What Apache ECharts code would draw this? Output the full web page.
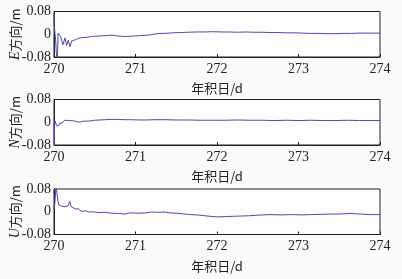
<!DOCTYPE html>
<html><head><meta charset="utf-8">
<script src="https://cdn.jsdelivr.net/npm/echarts@6/dist/echarts.min.js"></script>
<style>html,body{margin:0;padding:0;background:#fafafa}#c{width:402px;height:279px}</style>
</head><body><div id="c"></div>
<script>
const xTicks = [270, 271, 272, 273, 274];
const yTicks = [-0.08, 0, 0.08];
const xName = '年积日/d';
const yNames = ['{i|E}方向/m', '{i|N}方向/m', '{i|U}方向/m'];

const eTimes = [270.0,270.004,270.02,270.04,270.05,270.06,270.067,270.08,270.094,270.11,270.135,270.155,270.175,270.196,270.217,270.237,270.266,270.3,270.34,270.38,270.42,270.46,270.5,270.56,270.63,270.71,270.73,270.77,270.82,270.87,270.93,270.99,271.05,271.12,271.18,271.24,271.3,271.36,271.45,271.55,271.65,271.75,271.85,271.95,272.05,272.15,272.25,272.35,272.45,272.55,272.65,272.75,272.85,272.95,273.05,273.15,273.25,273.35,273.45,273.55,273.65,273.75,273.85,274.0];
const eValues = [0.07,0.03,-0.02,-0.12,0.004,-0.002,-0.001,-0.008,-0.014,-0.037,-0.013,-0.040,-0.020,-0.044,-0.023,-0.030,-0.019,-0.014,-0.012,-0.011,-0.010,-0.008,-0.007,-0.006,-0.005,-0.003,-0.001,-0.006,-0.007,-0.008,-0.007,-0.006,-0.005,-0.004,-0.002,0.001,0.003,0.003,0.005,0.006,0.007,0.008,0.008,0.009,0.008,0.008,0.007,0.008,0.007,0.007,0.006,0.006,0.005,0.005,0.004,0.003,0.003,0.002,0.002,0.003,0.003,0.004,0.004,0.004];

const nTimes = [270.0,270.003,270.006,270.015,270.03,270.045,270.055,270.07,270.09,270.1,270.13,270.15,270.17,270.19,270.24,270.28,270.32,270.36,270.4,270.45,270.5,270.56,270.63,270.71,270.79,270.87,270.95,271.05,271.12,271.25,271.36,271.5,271.65,271.8,271.95,272.1,272.25,272.4,272.55,272.7,272.85,273.0,273.15,273.3,273.45,273.6,273.75,273.9,274.0];
const nValues = [0.002,-0.09,-0.01,0.004,-0.012,-0.005,-0.013,-0.003,-0.008,-0.003,0.007,0.010,0.006,0.010,0.005,0.002,0.000,0.004,0.004,0.005,0.007,0.008,0.009,0.010,0.010,0.009,0.009,0.008,0.008,0.009,0.009,0.008,0.008,0.007,0.007,0.007,0.008,0.007,0.007,0.006,0.007,0.006,0.007,0.006,0.006,0.007,0.006,0.006,0.006];

const uTimes = [270.0,270.01,270.025,270.04,270.05,270.06,270.07,270.09,270.11,270.13,270.15,270.17,270.195,270.21,270.23,270.26,270.3,270.32,270.34,270.37,270.4,270.43,270.47,270.5,270.55,270.63,270.71,270.79,270.87,270.93,271.03,271.12,271.2,271.28,271.36,271.42,271.5,271.6,271.67,271.75,271.85,271.95,272.02,272.1,272.2,272.3,272.4,272.5,272.65,272.8,272.9,273.05,273.15,273.3,273.4,273.5,273.63,273.75,273.88,274.0];
const uValues = [0.01,0.03,0.09,0.085,0.036,0.024,0.030,0.020,0.026,0.018,0.022,0.020,0.036,0.018,0.012,0.010,0.010,0.004,0.001,0.003,0.002,-0.001,0.000,-0.001,-0.003,-0.002,-0.005,-0.006,-0.008,-0.004,-0.005,-0.004,-0.001,-0.002,-0.001,-0.004,-0.005,-0.008,-0.010,-0.011,-0.014,-0.017,-0.018,-0.017,-0.016,-0.015,-0.014,-0.012,-0.010,-0.011,-0.010,-0.011,-0.010,-0.009,-0.008,-0.008,-0.006,-0.008,-0.010,-0.010];

const series3 = [[eTimes,eValues],[nTimes,nValues],[uTimes,uValues]];
const tops = [11.5, 99.5, 189];
const serif = 'Liberation Serif';
const chart = echarts.init(document.getElementById('c'), null, {renderer:'canvas'});
const grids = [], xAxes = [], yAxes = [], series = [];
for (let i = 0; i < 3; i++) {
  grids.push({left: 54, right: 22, top: tops[i], height: 45.5, show: true,
    containLabel: false, outerBoundsMode: 'none',
    borderColor: '#222', borderWidth: 1, backgroundColor: '#fdfdfd'});
  xAxes.push({type: 'value', gridIndex: i, min: xTicks[0], max: xTicks[xTicks.length-1], interval: 1,
    name: xName, nameLocation: 'middle', nameGap: 25, nameMoveOverlap: false,
    nameTextStyle: {fontFamily: 'Noto Sans CJK SC', fontSize: 13, color: '#222'},
    axisLine: {show: true, onZero: false, lineStyle: {color: '#222'}},
    axisTick: {show: true, inside: true, length: 3, lineStyle: {color: '#222'}},
    axisLabel: {fontFamily: serif, fontSize: 14, color: '#222', margin: 5},
    splitLine: {show: false}});
  yAxes.push({type: 'value', gridIndex: i, min: yTicks[0], max: yTicks[2], interval: 0.08,
    name: yNames[i], nameLocation: 'middle', nameGap: 32, nameRotate: 90, nameMoveOverlap: false,
    nameTextStyle: {fontFamily: 'Noto Sans CJK SC', fontSize: 13, color: '#222',
      rich: {i: {fontFamily: serif, fontStyle: 'italic', fontSize: 14, color: '#222'}}},
    axisLine: {show: true, onZero: false, lineStyle: {color: '#222'}},
    axisTick: {show: false},
    axisLabel: {fontFamily: serif, fontSize: 14, color: '#222', margin: 3,
      formatter: v => v === 0 ? '0' : (v < 0 ? '-0.08' : '0.08')},
    splitLine: {show: false}});
  const [ts, vs] = series3[i];
  series.push({type: 'line', xAxisIndex: i, yAxisIndex: i, showSymbol: false, symbol: 'none',
    clip: true, lineStyle: {color: '#4b4bab', width: 1},
    data: ts.map((t, k) => [t, vs[k]])});
}
chart.setOption({animation: false, backgroundColor: '#fafafa', grid: grids, xAxis: xAxes, yAxis: yAxes, series});
</script></body></html>
